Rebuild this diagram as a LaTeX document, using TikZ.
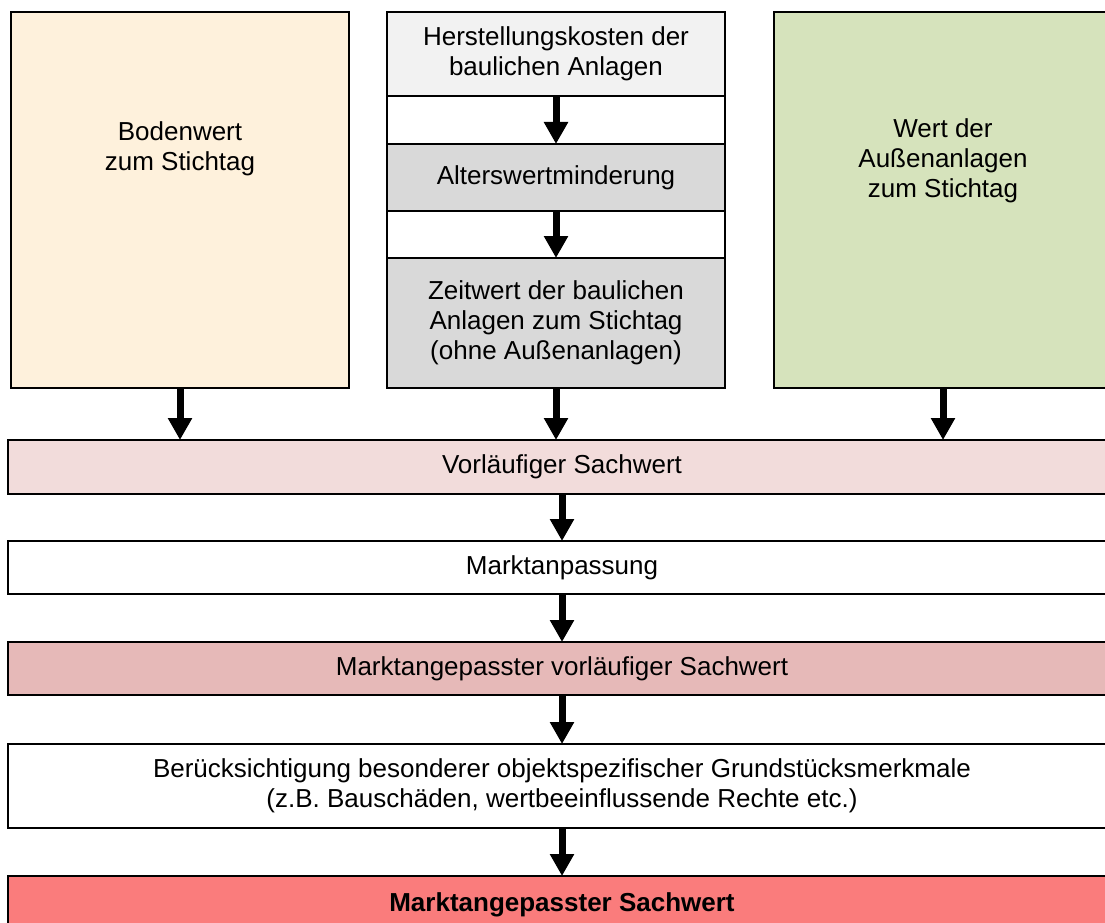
\documentclass[tikz,border=0pt]{standalone}
\usepackage{fontspec}
\setmainfont{Liberation Sans}
\usetikzlibrary{arrows.meta}
\definecolor{bodenfarbe}{HTML}{FEF1DC}
\definecolor{aussenfarbe}{HTML}{D6E3BC}
\definecolor{grauhell}{HTML}{F2F2F2}
\definecolor{grau}{HTML}{D9D9D9}
\definecolor{rosa}{HTML}{F2DCDB}
\definecolor{rosamittel}{HTML}{E6B9B8}
\definecolor{rot}{HTML}{FA7C7C}
\newcommand{\txt}{\fontsize{26}{30}\selectfont}
\begin{document}
\begin{tikzpicture}[x=1pt,y=-1pt,
  spalte/.style={draw=black,line width=1.6pt,minimum width=338pt,inner sep=0pt,outer sep=0pt,align=center,font=\txt},
  zeile/.style={draw=black,line width=1.6pt,minimum width=1108pt,inner sep=0pt,outer sep=0pt,align=center,font=\txt},
  beschr/.style={align=center,font=\txt,inner sep=0pt},
  pfeil/.style={line width=7pt,-{Triangle[width=23pt,length=22pt]}}]
  \useasboundingbox (0,0) rectangle (1105,923);
  \clip (0,0) rectangle (1105,923);

  % obere Spalten
  \node[spalte,fill=bodenfarbe,minimum height=376pt] (boden) at (180,200) {};
  \node[beschr] (bodentxt) at (180,149) {Bodenwert\\zum Stichtag};

  \node[spalte,fill=grauhell,minimum height=84pt] (herst) at (556,54) {Herstellungskosten der\\baulichen Anlagen};
  \node[spalte,fill=grau,minimum height=67pt] (alter) at (556,177.5) {Alterswertminderung};
  \node[spalte,fill=grau,minimum height=130pt] (zeit) at (556,323) {Zeitwert der baulichen\\Anlagen zum Stichtag\\(ohne Außenanlagen)};
  \draw[line width=1.6pt] (herst.north west) rectangle (zeit.south east);

  \node[spalte,fill=aussenfarbe,minimum height=376pt] (aussen) at (943,200) {};
  \node[beschr] (aussentxt) at (943,161) {Wert der\\Außenanlagen\\zum Stichtag};

  % untere Zeilen
  \node[zeile,fill=rosa,minimum height=54pt] (vorl) at (562,467) {Vorläufiger Sachwert};
  \node[zeile,fill=white,minimum height=53pt] (markt) at (562,567.5) {Marktanpassung};
  \node[zeile,fill=rosamittel,minimum height=53pt] (mvorl) at (562,668.5) {Marktangepasster vorläufiger Sachwert};
  \node[zeile,fill=white,minimum height=84pt] (beruck) at (562,786) {Berücksichtigung besonderer objektspezifischer Grundstücksmerkmale\\(z.B. Bauschäden, wertbeeinflussende Rechte etc.)};
  \node[zeile,fill=rot,minimum height=58pt,font=\txt\bfseries] (markts) at (562,905) {Marktangepasster Sachwert};

  % Pfeile
  \draw[pfeil] (herst) -- (alter);
  \draw[pfeil] (alter) -- (zeit);
  \draw[pfeil] (boden.south) -- (boden.south |- vorl.north);
  \draw[pfeil] (zeit.south) -- (zeit.south |- vorl.north);
  \draw[pfeil] (aussen.south) -- (aussen.south |- vorl.north);
  \draw[pfeil] (vorl) -- (markt);
  \draw[pfeil] (markt) -- (mvorl);
  \draw[pfeil] (mvorl) -- (beruck);
  \draw[pfeil] (beruck) -- (markts);
\end{tikzpicture}
\end{document}
